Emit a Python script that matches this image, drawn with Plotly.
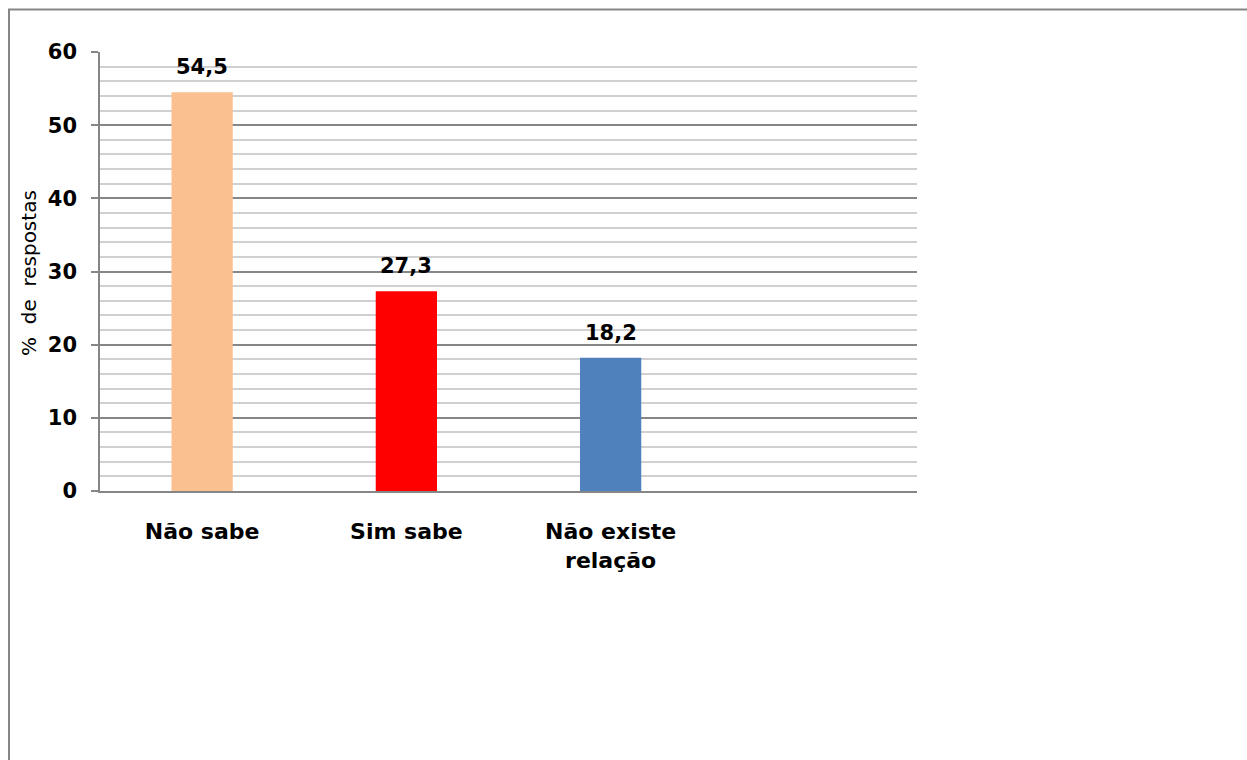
import plotly.graph_objects as go

# Survey responses (% of answers)
categories = ["Não sabe", "Sim sabe", "Não existe<br>relação"]
values = [54.5, 27.3, 18.2]
bar_colors = ["#FAC090", "#FF0000", "#4F81BD"]
y_ticks = [0, 10, 20, 30, 40, 50, 60]

W, H = 1247, 760
ML, MR, MT, MB = 100, W - 917, 52, H - 491
PW, PH = W - ML - MR, H - MT - MB

def px_x(p):
    return (p - ML) / PW

def px_y(p):
    return (H - MB - p) / PH

FONT = "DejaVu Sans, Verdana, sans-serif"

fig = go.Figure()
fig.add_trace(go.Bar(
    x=categories,
    y=values,
    marker=dict(color=bar_colors, line=dict(width=0)),
    width=0.3,
    showlegend=False,
    hoverinfo="x+y",
))

# value labels above each bar
for c, v in zip(categories, values):
    fig.add_annotation(
        x=c, y=v, xref="x", yref="y",
        text="<b>" + f"{v:.1f}".replace(".", ",") + "</b>",
        showarrow=False, yanchor="bottom", yshift=11,
        font=dict(family=FONT, size=21, color="black"),
    )

# y-axis title
fig.add_annotation(
    x=px_x(29), y=px_y(273), xref="paper", yref="paper",
    text="%  de  respostas", textangle=-90, showarrow=False,
    xanchor="center", yanchor="middle",
    font=dict(family=FONT, size=20, color="black"),
)

# outer chart frame (left and top edges)
fig.add_shape(type="line", xref="paper", yref="paper",
              x0=px_x(9), x1=px_x(9), y0=px_y(9), y1=px_y(800),
              line=dict(color="#868686", width=2))
fig.add_shape(type="line", xref="paper", yref="paper",
              x0=px_x(8), x1=px_x(1300), y0=px_y(9.5), y1=px_y(9.5),
              line=dict(color="#868686", width=2))

fig.update_layout(
    width=W, height=H,
    margin=dict(l=ML, r=MR, t=MT, b=MB, pad=0),
    paper_bgcolor="white",
    plot_bgcolor="white",
    bargap=0.7,
    font=dict(family=FONT, color="black"),
    xaxis=dict(
        type="category",
        range=[-0.5, 3.5],
        showgrid=False,
        showline=True, linecolor="#868686", linewidth=1.5,
        ticks="", ticklabelstandoff=20,
        tickfont=dict(family=FONT, size=22, color="black", weight="bold"),
        fixedrange=True,
    ),
    yaxis=dict(
        range=[0, 60],
        tickvals=y_ticks,
        ticktext=[str(t) for t in y_ticks],
        showgrid=True, gridcolor="#868686", gridwidth=1.5,
        showline=True, linecolor="#868686", linewidth=1.5,
        ticks="outside", ticklen=7, tickcolor="#868686", tickwidth=1.5,
        ticklabelstandoff=10,
        tickfont=dict(family=FONT, size=21, color="black", weight="bold"),
        minor=dict(dtick=2, showgrid=True, gridcolor="#d0d0d0", gridwidth=1.5, ticks=""),
        zeroline=False,
        fixedrange=True,
    ),
)

fig.write_html("out.html")
